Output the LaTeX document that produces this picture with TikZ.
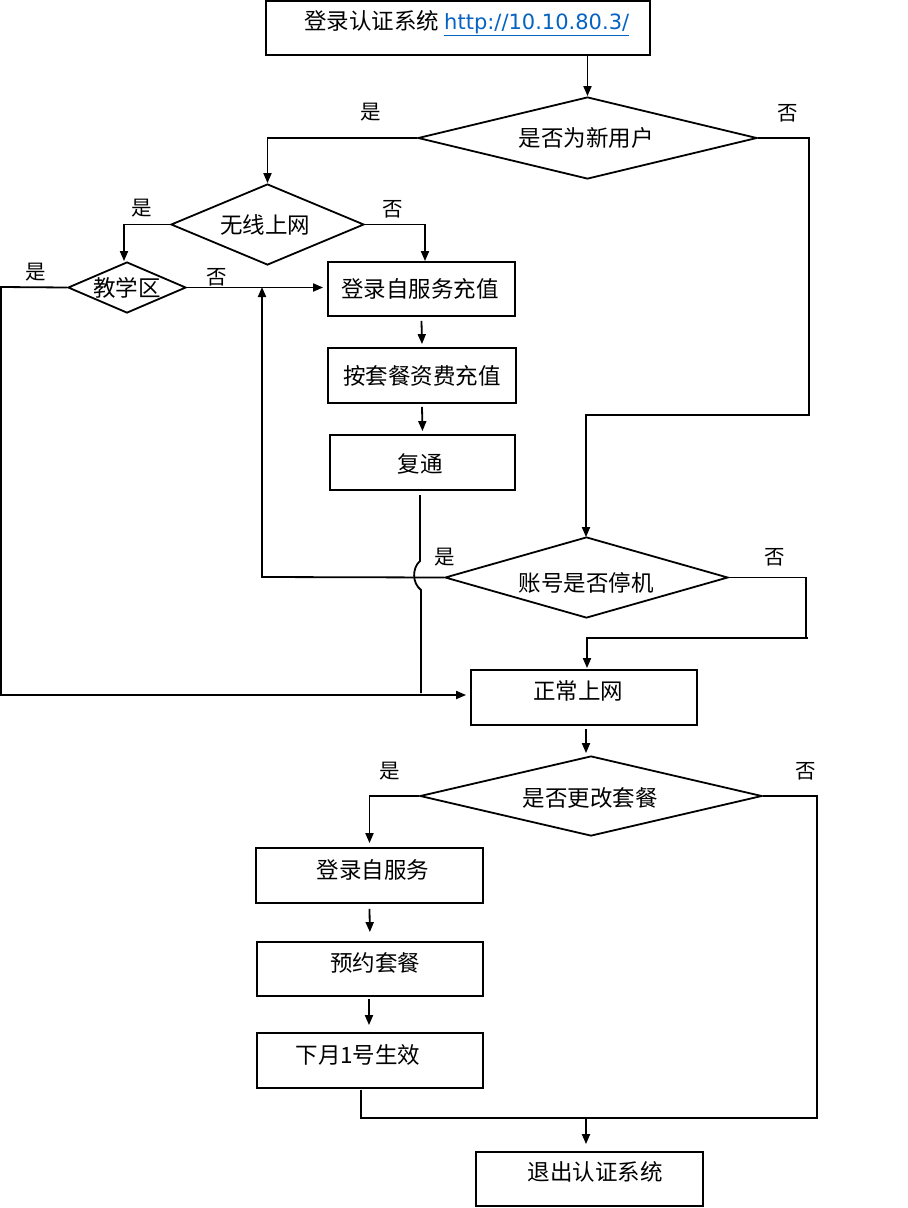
\documentclass[tikz,border=0pt]{standalone}
\usepackage{fontspec}
\setmainfont{Noto Sans CJK SC}
\newfontfamily\latinf{DejaVu Sans}
\usetikzlibrary{arrows.meta,shapes.geometric}
\definecolor{linkblue}{RGB}{5,99,193}
\begin{document}
\begin{tikzpicture}[x=1pt,y=-1pt,
  ln/.style={line width=1.8pt},
  arr/.style={ln,-{Triangle[length=10pt,width=8pt]}},
  box/.style={draw,line width=1.8pt,rectangle,inner sep=0pt},
  dia/.style={draw,line width=1.8pt,diamond,inner sep=0pt},
  txt/.style={inner sep=0pt,font=\fontsize{22.5}{26}\selectfont},
  lab/.style={inner sep=0pt,font=\fontsize{20.5}{24}\selectfont}]
\useasboundingbox (0,0) rectangle (908,1208);
% boxes
\node[box,minimum width=384pt,minimum height=54pt] (b0) at (458,28) {};
\node[box,minimum width=187pt,minimum height=54pt] (b1) at (421.5,289) {};
\node[box,minimum width=188pt,minimum height=55pt] (b2) at (422,375.5) {};
\node[box,minimum width=185pt,minimum height=55pt] (b3) at (422.5,462.5) {};
\node[box,minimum width=226pt,minimum height=55pt] (b5) at (584,697.5) {};
\node[box,minimum width=227pt,minimum height=55pt] (b6) at (369.5,875.5) {};
\node[box,minimum width=226pt,minimum height=54pt] (b7) at (370,969) {};
\node[box,minimum width=226pt,minimum height=55pt] (b8) at (370,1060.5) {};
\node[box,minimum width=227pt,minimum height=54pt] (b9) at (589.5,1179) {};
% diamonds
\node[dia,minimum width=339pt,minimum height=82pt] (d1) at (587.5,138) {};
\node[dia,minimum width=193pt,minimum height=81pt] (d2) at (267.5,224.5) {};
\node[dia,minimum width=118pt,minimum height=51pt] (d3) at (127,287.5) {};
\node[dia,minimum width=283pt,minimum height=81pt] (d4) at (586.5,577.5) {};
\node[dia,minimum width=342pt,minimum height=80pt] (d5) at (591,796) {};
% texts
\node[txt,anchor=west] (t0) at (304,23) {登录认证系统 {\latinf\fontsize{21}{24}\selectfont\color{linkblue}\underline{http://10.10.80.3/}}};
\node[txt] (t1) at (586,138) {是否为新用户};
\node[txt] (t2) at (265,225) {无线上网};
\node[txt] (t3) at (127,288) {教学区};
\node[txt] (t4) at (420,289) {登录自服务充值};
\node[txt] (t5) at (422,376) {按套餐资费充值};
\node[txt] (t6) at (420,464) {复通};
\node[txt] (t7) at (586,583) {账号是否停机};
\node[txt] (t8) at (578,691) {正常上网};
\node[txt] (t9) at (590,798) {是否更改套餐};
\node[txt] (t10) at (373,870) {登录自服务};
\node[txt] (t11) at (375,963) {预约套餐};
\node[txt] (t12) at (358,1055) {下月1号生效};
\node[txt] (t13) at (595,1172) {退出认证系统};
% labels
\node[lab] (l1) at (371,112) {是};
\node[lab] (l2) at (788,113) {否};
\node[lab] (l3) at (142,208) {是};
\node[lab] (l4) at (393,209) {否};
\node[lab] (l5) at (36,272) {是};
\node[lab] (l6) at (217,277) {否};
\node[lab] (l7) at (445,557) {是};
\node[lab] (l8) at (775,557) {否};
\node[lab] (l9) at (390,771) {是};
\node[lab] (l10) at (806,771) {否};
% coordinates
\coordinate (c1) at (1,287);
\coordinate (c2) at (262,577);
\coordinate (c3) at (262,287);
\coordinate (c4) at (809,415);
\coordinate (c5) at (806,638);
\coordinate (c6) at (808,638);
\coordinate (c7) at (817,1118);
\coordinate (c8) at (361,1090);
\coordinate (c9) at (586,1118);
\coordinate (h1) at (420,495);
\coordinate (h2) at (420,561);
\coordinate (h3) at (421,590);
\coordinate (h4) at (421,693);
% connectors
\draw[arr] (b0.south -| d1.north) -- (d1.north);
\draw[arr] (d1.west) -| (d2.north);
\draw[arr] (d2.west) -| ([xshift=-3pt]d3.north);
\draw[arr] (d2.east) -| ([xshift=3.5pt]b1.north);
\draw[arr,shorten >=4pt] (d3.east) -- (d3.east -| b1.west);
\draw[arr] (d3.west) -- (c1) |- ([xshift=-4pt,yshift=2.5pt]b5.west);
\draw[arr] ([yshift=-4pt]b1.south) -- ([yshift=3pt]b2.north);
\draw[arr] ([yshift=-3pt]b2.south) -- ([yshift=3pt]b3.north);
\draw[ln] (h1) -- (h2) .. controls (412,568) and (412,583) .. (h3) -- (h4);
\draw[arr] (d4.west) -- (c2) -- (c3);
\draw[ln] (d4.east) -| (c5);
\draw[arr] (c6) -| ([xshift=3pt,yshift=1pt]b5.north);
\draw[arr] (d1.east) -| (c4) -| ([xshift=-0.5pt,yshift=-1pt]d4.north);
\draw[arr] ([xshift=2pt,yshift=-3pt]b5.south) -- ([xshift=2pt,yshift=2pt]b5.south |- d5.north);
\draw[arr] (d5.west) -| ([yshift=4pt]b6.north);
\draw[arr,shorten >=9pt] ([yshift=-5pt]b6.south) -- (b7.north);
\draw[arr,shorten >=7pt] ([xshift=-1pt,yshift=-2pt]b7.south) -- ([xshift=-1pt]b8.north);
\draw[ln] (c8) |- (c9);
\draw[ln] (d5.east) -| (c7) -- (c9);
\draw[arr] (c9) -- ([xshift=-3.5pt,yshift=7pt]b9.north);
\end{tikzpicture}
\end{document}
